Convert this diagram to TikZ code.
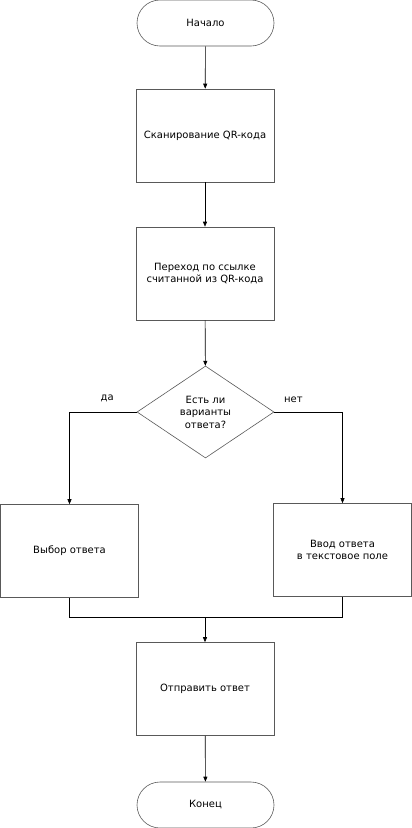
\documentclass[tikz,border=0pt]{standalone}
\usepackage{fontspec}
\setmainfont{DejaVu Sans}
\usetikzlibrary{shapes.geometric,arrows.meta}

\begin{document}
\begin{tikzpicture}[x=1pt,y=-1pt,line width=0.6pt,
    every node/.append style={font=\fontsize{10}{12.5}\selectfont,align=center},
    term/.style={draw=black!65,rectangle,rounded corners=23pt,minimum width=137pt,minimum height=46pt,inner sep=0pt},
    proc/.style={draw=black!65,rectangle,minimum width=138pt,minimum height=93pt,inner sep=0pt},
    cond/.style={draw=black!65,diamond,minimum width=137pt,minimum height=92pt,inner sep=0pt},
    flow/.style={draw=black,-{Triangle[length=5pt,width=4pt]}},
    link/.style={draw=black}]
    \useasboundingbox (0,0) rectangle (412,828);
    \node [term] (start) at (205.5,23) {Начало};
    \node [proc] (scan) at (205,135.5) {Сканирование QR-кода};
    \node [proc] (follow) at (205,273.5) {Переход по ссылке\\считанной из QR-кода};
    \node [cond] (ask) at (205.5,412) {Есть ли\\варианты\\ответа?};
    \node [proc] (pick) at (69.5,551) {Выбор ответа};
    \node [proc] (type) at (342.5,550) {Ввод ответа\\в текстовое поле};
    \node [proc] (send) at (205,689) {Отправить ответ};
    \node [term] (stop) at (205.5,805) {Конец};
    \coordinate (join) at (205,617);
    \draw [flow] (start) -- (scan);
    \draw [flow] (scan) -- (follow);
    \draw [flow] (follow) -- (ask);
    \draw [flow] (ask.west) -| node [pos=0.22,above=6pt] {да} (pick.north);
    \draw [flow] (ask.east) -| node [pos=0.14,above=6pt] {нет} (type.north);
    \draw [link] (pick.south) |- (join);
    \draw [link] (type.south) |- (join);
    \draw [flow] (join) -- (send);
    \draw [flow] (send) -- (stop);
\end{tikzpicture}
\end{document}
